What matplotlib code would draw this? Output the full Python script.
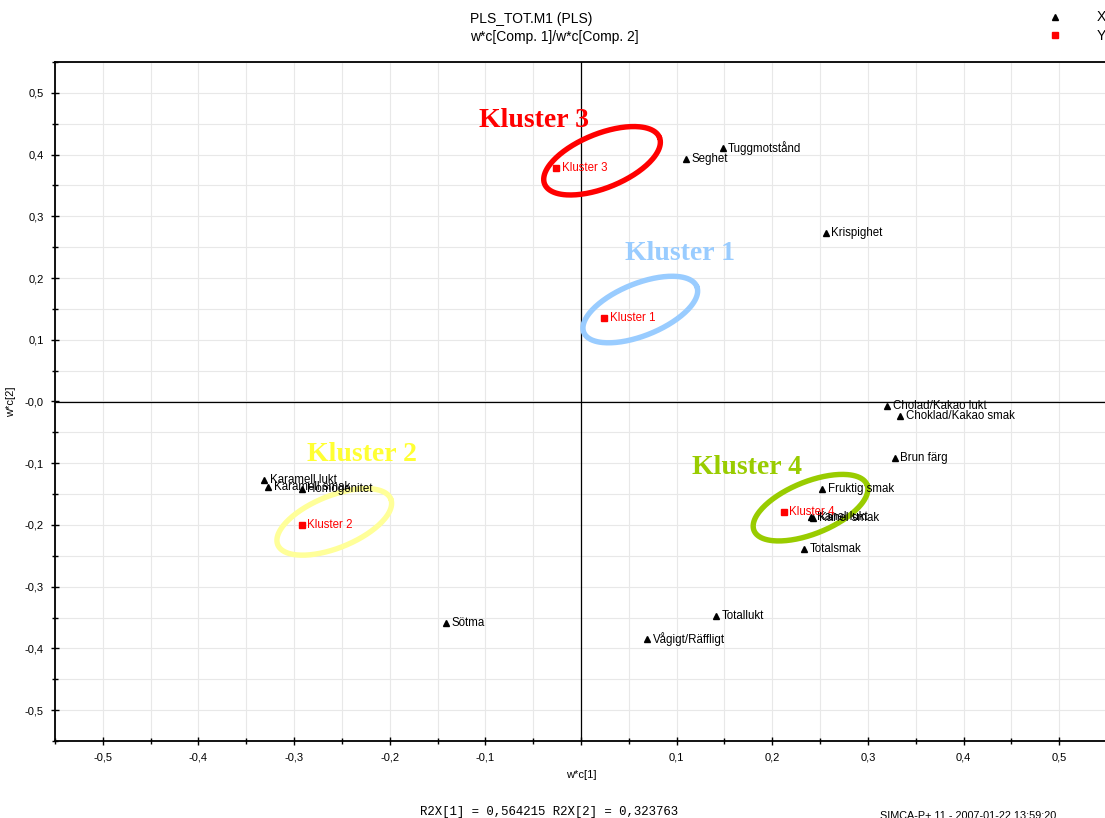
import numpy as np
import matplotlib
matplotlib.use("Agg")
import matplotlib.pyplot as plt
from matplotlib.lines import Line2D
from matplotlib.ticker import MultipleLocator, FuncFormatter

plt.rcParams['font.family'] = ['Liberation Sans', 'DejaVu Sans']

# X loadings (w*c, sensory attributes)
x_names = ['Tuggmotstånd', 'Seghet', 'Krispighet', 'Cholad/Kakao lukt',
           'Choklad/Kakao smak', 'Brun färg', 'Fruktig smak', 'Kanel lukt',
           'Kanel smak', 'Totalsmak', 'Totallukt', 'Vågigt/Räffligt', 'Sötma',
           'Karamell lukt', 'Karamell smak', 'Homogenitet']
x_c1 = [0.148, 0.110, 0.256, 0.320, 0.334, 0.328, 0.252, 0.241,
        0.243, 0.233, 0.141, 0.069, -0.141, -0.331, -0.327, -0.292]
x_c2 = [0.411, 0.393, 0.273, -0.008, -0.024, -0.091, -0.141, -0.187,
        -0.189, -0.239, -0.347, -0.385, -0.359, -0.127, -0.138, -0.141]

# Y loadings (clusters)
y_names = ['Kluster 1', 'Kluster 2', 'Kluster 3', 'Kluster 4']
y_c1 = [0.024, -0.292, -0.026, 0.212]
y_c2 = [0.136, -0.200, 0.378, -0.179]

# hand drawn rings around each cluster: centre (data), half axes (px), tilt (deg)
ring_cx = [0.062, -0.258, 0.022, 0.240]
ring_cy = [0.149, -0.195, 0.390, -0.172]
ring_a = [61, 61, 62, 61]
ring_b = [26, 26, 27, 26]
ring_ang = [22, 22, 22, 22]
ring_col = ['#99ccff', '#ffff99', '#ff0000', '#99cc00']
label_col = ['#99ccff', '#ffff33', '#ff0000', '#99cc00']
label_x = [0.046, -0.287, -0.107, 0.116]
label_y = [0.239, -0.086, 0.455, -0.107]

fig = plt.figure(figsize=(11.05, 8.18), dpi=100)
ax = fig.add_axes([55 / 1105, 1 - 741 / 818, 1052 / 1105, 679 / 818])
ax.set_xlim(-0.55, 0.55)
ax.set_ylim(-0.55, 0.55)

# pixels per data unit, used to keep the rings round on screen
px_x = 957.0
px_y = 616.0

ax.xaxis.set_major_locator(MultipleLocator(0.1))
ax.xaxis.set_minor_locator(MultipleLocator(0.05))
ax.yaxis.set_major_locator(MultipleLocator(0.1))
ax.yaxis.set_minor_locator(MultipleLocator(0.05))
ax.grid(True, which='both', color='#e8e8e8', lw=0.8, zorder=0)
ax.set_axisbelow(True)


def fmt_x(v, pos):
    if abs(v) < 1e-9:
        return ''
    return ('%.1f' % v).replace('.', ',')


def fmt_y(v, pos):
    if abs(v) < 1e-9:
        return '-0,0'
    return ('%.1f' % v).replace('.', ',')


ax.xaxis.set_major_formatter(FuncFormatter(fmt_x))
ax.yaxis.set_major_formatter(FuncFormatter(fmt_y))
ax.tick_params(which='both', direction='inout', length=6, width=1, labelsize=8, pad=5)
ax.tick_params(which='minor', length=5)
for s in ax.spines.values():
    s.set_linewidth(1.3)
ax.spines['right'].set_visible(False)

ax.axhline(0, color='black', lw=0.9, zorder=1)
ax.axvline(0, color='black', lw=0.9, zorder=1)

ax.set_xlabel('w*c[1]', fontsize=8, labelpad=6)
ax.set_ylabel('w*c[2]', fontsize=8, labelpad=6)

# rings
t = np.linspace(0, 2 * np.pi, 200)
for cx, cy, a, b, ang, col in zip(ring_cx, ring_cy, ring_a, ring_b, ring_ang, ring_col):
    th = np.deg2rad(ang)
    ex = a * np.cos(t) * np.cos(th) - b * np.sin(t) * np.sin(th)
    ey = a * np.cos(t) * np.sin(th) + b * np.sin(t) * np.cos(th)
    ax.plot(cx + ex / px_x, cy + ey / px_y, color=col, lw=3.9, zorder=2,
            solid_capstyle='round')

ax.plot(x_c1, x_c2, '^', color='black', ms=4.5, ls='none', zorder=3)
ax.plot(y_c1, y_c2, 's', color='#ff0000', ms=4.5, ls='none', zorder=3)

for n, xv, yv in zip(x_names, x_c1, x_c2):
    ax.annotate(n, (xv, yv), xytext=(4, 0), textcoords='offset points',
                fontsize=8.3, va='center', ha='left', color='black', zorder=4)
for n, xv, yv in zip(y_names, y_c1, y_c2):
    ax.annotate(n, (xv, yv), xytext=(4, 0), textcoords='offset points',
                fontsize=8.3, va='center', ha='left', color='#ff0000', zorder=4)

for n, lx, ly, col in zip(y_names, label_x, label_y, label_col):
    ax.text(lx, ly, n, fontsize=20, fontweight='bold', color=col,
            family=['Liberation Serif', 'DejaVu Serif'], va='center', ha='left', zorder=4)

fig.text(470 / 1105, 1 - 19 / 818, 'PLS_TOT.M1 (PLS)', fontsize=10, va='center', ha='left')
fig.text(470 / 1105, 1 - 37 / 818, 'w*c[Comp. 1]/w*c[Comp. 2]', fontsize=10, va='center', ha='left')

# key in the top right corner
fig.add_artist(Line2D([1055 / 1105], [1 - 17 / 818], transform=fig.transFigure,
                      marker='^', color='black', ms=4.5, ls='none'))
fig.add_artist(Line2D([1055 / 1105], [1 - 35 / 818], transform=fig.transFigure,
                      marker='s', color='#ff0000', ms=4.5, ls='none'))
fig.text(1097 / 1105, 1 - 17 / 818, 'X', fontsize=10, va='center', ha='left')
fig.text(1097 / 1105, 1 - 36 / 818, 'Y', fontsize=10, va='center', ha='left')

fig.text(420 / 1105, 1 - 812 / 818, 'R2X[1] = 0,564215 R2X[2] = 0,323763', fontsize=8.9,
         family=['Liberation Mono', 'DejaVu Sans Mono'], va='center', ha='left')
fig.text(880 / 1105, 1 - 816 / 818, 'SIMCA-P+ 11 - 2007-01-22 13:59:20', fontsize=7.8,
         va='center', ha='left')

fig.savefig('out.png', dpi=100)
